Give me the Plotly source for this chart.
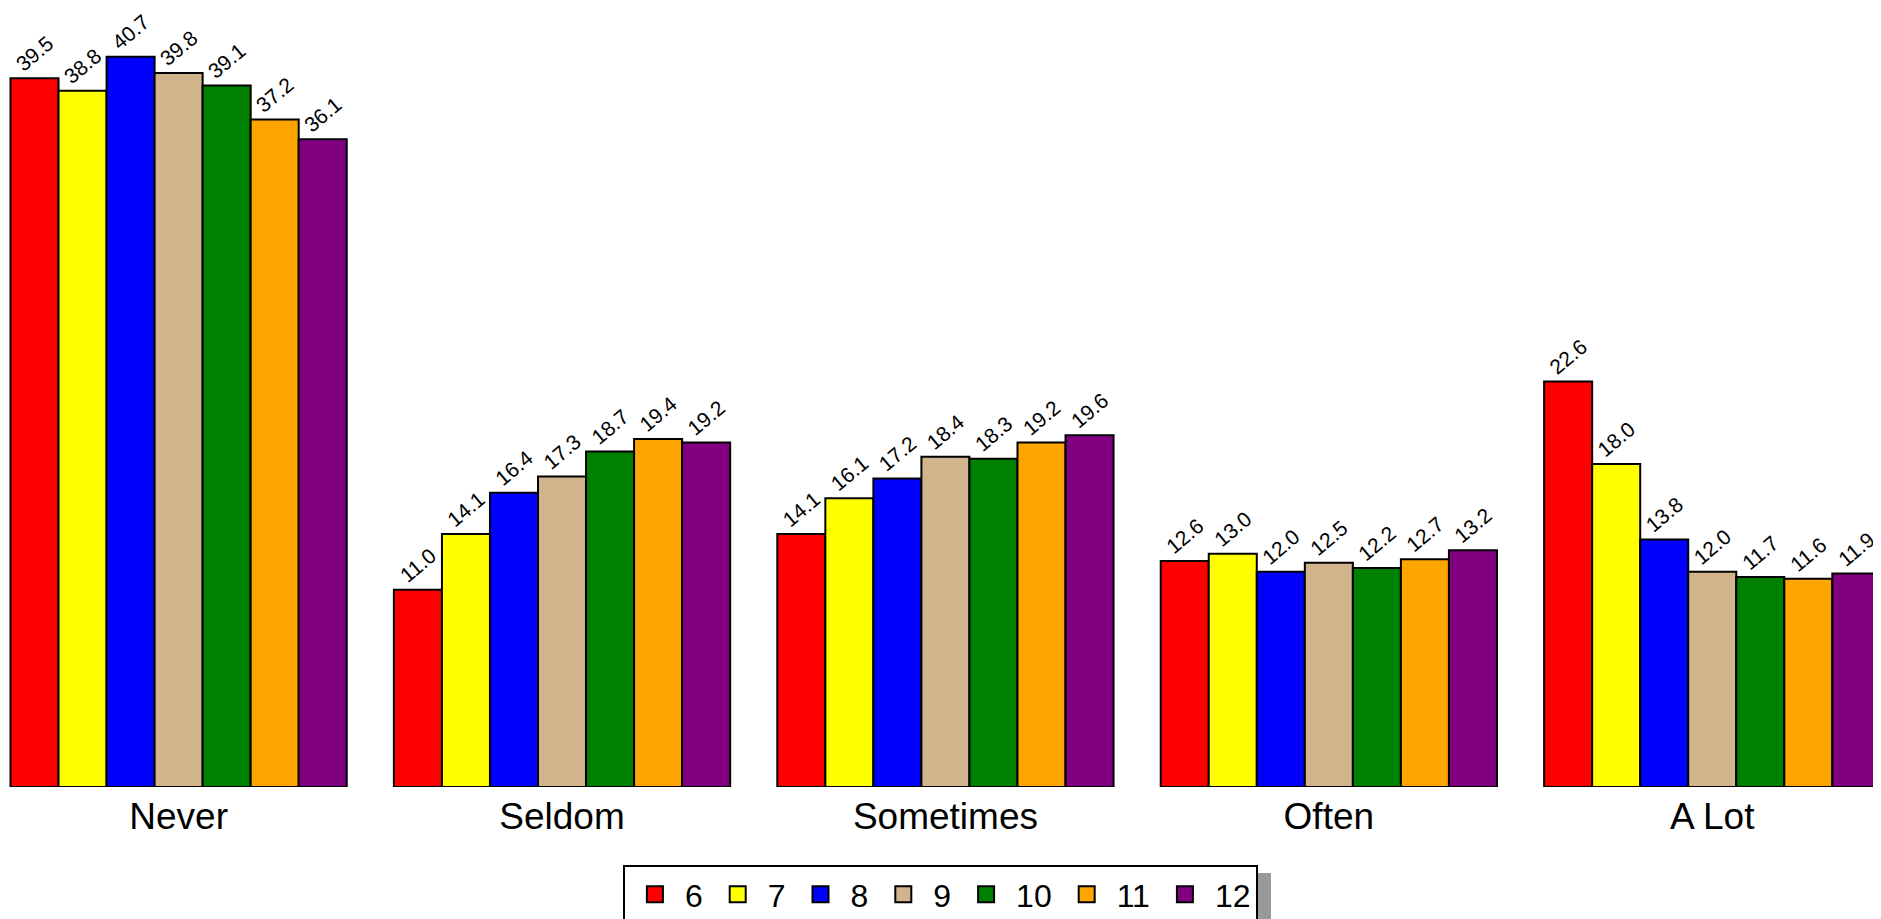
import plotly.graph_objects as go

# Response categories and grade series
categories = ["Never", "Seldom", "Sometimes", "Often", "A Lot"]
grades = ["6", "7", "8", "9", "10", "11", "12"]
colors = ["#FF0000", "#FFFF00", "#0000FF", "#D2B48C", "#008000", "#FFA500", "#800080"]

grade6 = [39.5, 11.0, 14.1, 12.6, 22.6]
grade7 = [38.8, 14.1, 16.1, 13.0, 18.0]
grade8 = [40.7, 16.4, 17.2, 12.0, 13.8]
grade9 = [39.8, 17.3, 18.4, 12.5, 12.0]
grade10 = [39.1, 18.7, 18.3, 12.2, 11.7]
grade11 = [37.2, 19.4, 19.2, 12.7, 11.6]
grade12 = [36.1, 19.2, 19.6, 13.2, 11.9]
series = [grade6, grade7, grade8, grade9, grade10, grade11, grade12]

FONT = "Liberation Sans, Arial, sans-serif"

fig = go.Figure()
for name, vals, col in zip(grades, series, colors):
    fig.add_trace(go.Bar(
        x=categories, y=vals, name=name, showlegend=False,
        marker=dict(color=col, line=dict(color="black", width=2)),
        texttemplate="%{y:.1f}", textposition="outside", textangle=-40,
        textfont=dict(family=FONT, size=21, color="black"),
        constraintext="none", cliponaxis=False,
    ))
    # legend entry with a bigger square swatch
    fig.add_trace(go.Scatter(
        x=[None], y=[None], mode="markers", name=name,
        marker=dict(symbol="square", size=16, color=col, line=dict(color="black", width=2)),
    ))

# drop shadow behind the legend box
fig.add_shape(type="rect", xref="paper", yref="paper",
              x0=631 / 1881, x1=1263 / 1881, y0=(779 - 919) / 776, y1=(779 - 865) / 776,
              fillcolor="#999999", line=dict(width=0), layer="above")

fig.update_layout(
    width=1881, height=919,
    margin=dict(l=0, r=0, t=3, b=140, autoexpand=False),
    paper_bgcolor="white", plot_bgcolor="white",
    barmode="group", bargap=0.123, bargroupgap=0,
    font=dict(family=FONT, color="black"),
    legend=dict(
        orientation="h", xref="paper", x=0.4957, xanchor="center",
        yref="paper", y=(779 - 916) / 776, yanchor="bottom",
        bgcolor="white", bordercolor="black", borderwidth=2,
        font=dict(size=32), itemsizing="trace", itemwidth=50, tracegroupgap=0,
    ),
    xaxis=dict(range=[-0.445, 4.461], showgrid=False, showline=False, ticks="",
               tickfont=dict(size=37), zeroline=False, ticklabelstandoff=4),
    yaxis=dict(range=[0, 43.25], visible=False, showgrid=False),
)

fig.write_html("out.html")
